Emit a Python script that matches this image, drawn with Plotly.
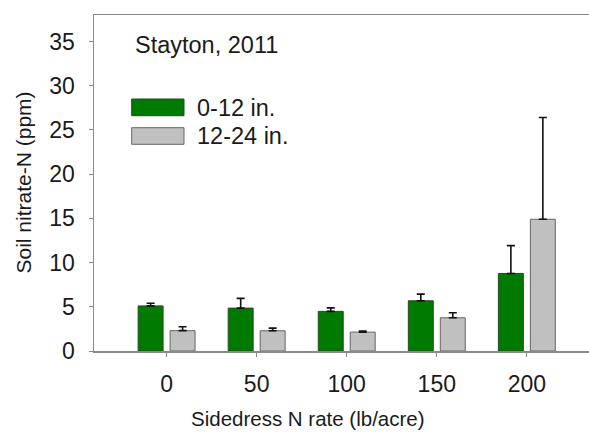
import plotly.graph_objects as go

rates = ["0", "50", "100", "150", "200"]
shallow = [5.1, 4.85, 4.48, 5.68, 8.77]
shallow_err = [0.3, 1.1, 0.4, 0.75, 3.15]
deep = [2.3, 2.29, 2.14, 3.76, 14.9]
deep_err = [0.45, 0.3, 0.12, 0.56, 11.5]
series_names = ["0-12 in.", "12-24 in."]
y_ticks = [0, 5, 10, 15, 20, 25, 30, 35]

FONT = "Liberation Sans, Arial, sans-serif"
GREEN = "#007a00"
GRAY = "#c0c0c0"
AXIS = "#8a8a8a"
TXT = "#1a1a1a"

fig = go.Figure()
fig.add_trace(go.Bar(
    x=rates, y=shallow, name=series_names[0],
    marker=dict(color=GREEN, line=dict(color="#1f4d1f", width=1)),
    error_y=dict(type="data", array=shallow_err, arrayminus=[0] * len(rates),
                 symmetric=False, color="#111111", thickness=1.6, width=4),
    showlegend=False,
))
fig.add_trace(go.Bar(
    x=rates, y=deep, name=series_names[1],
    marker=dict(color=GRAY, line=dict(color="#666666", width=1)),
    error_y=dict(type="data", array=deep_err, arrayminus=[0] * len(rates),
                 symmetric=False, color="#111111", thickness=1.6, width=4),
    showlegend=False,
))

W, H = 589, 439
PL, PT, PB = 94, 15, 351   # plot-area edges in page pixels
L, T = PL, PT
B = H - PB
R = 0
pw, ph = W - L - R, H - T - B

def px(xp):
    return (xp - PL) / pw

def py(yp):
    return (PB - yp) / ph

fig.update_layout(
    width=W, height=H,
    margin=dict(l=L, r=R, t=T, b=B, autoexpand=False),
    paper_bgcolor="white", plot_bgcolor="white",
    barmode="group", bargap=0.29, bargroupgap=0.22,
    font=dict(family=FONT, size=21, color=TXT),
    hovermode=False,
    xaxis=dict(
        type="category", categoryorder="array", categoryarray=rates,
        range=[-0.806, 4.69],
        showline=True, linecolor=AXIS, linewidth=1.5, mirror=True,
        ticks="outside", ticklen=4, tickcolor=AXIS, tickwidth=1,
        showgrid=False, zeroline=False,
        tickfont=dict(size=23, color=TXT), ticklabelstandoff=8,
    ),
    yaxis=dict(
        range=[0, 38], tickvals=y_ticks,
        showline=True, linecolor=AXIS, linewidth=1.5,
        ticks="outside", ticklen=4, tickcolor=AXIS, tickwidth=1,
        showgrid=False, zeroline=False,
        tickfont=dict(size=23, color=TXT), ticklabelstandoff=9,
    ),
)

annotations = [
    dict(text="Stayton, 2011", x=px(133), y=py(44.5), xanchor="left", yanchor="middle",
         font=dict(size=23.5)),
    dict(text=series_names[0], x=px(195), y=py(107.5), xanchor="left", yanchor="middle",
         font=dict(size=23.5)),
    dict(text=series_names[1], x=px(195), y=py(136), xanchor="left", yanchor="middle",
         font=dict(size=23.5)),
    dict(text="Sidedress N rate (lb/acre)", x=px(308), y=py(418), xanchor="center",
         yanchor="middle", font=dict(size=20.5)),
    dict(text="Soil nitrate-N (ppm)", x=px(22.5), y=py(183), xanchor="center",
         yanchor="middle", textangle=-90, font=dict(size=21)),
]
for a in annotations:
    a.update(xref="paper", yref="paper", showarrow=False)
fig.update_layout(annotations=annotations)

fig.add_shape(type="rect", xref="paper", yref="paper",
              x0=px(131.7), x1=px(184), y0=py(115.7), y1=py(99),
              fillcolor=GREEN, line=dict(color="#1f4d1f", width=1))
fig.add_shape(type="rect", xref="paper", yref="paper",
              x0=px(131.7), x1=px(184), y0=py(144.3), y1=py(127.7),
              fillcolor=GRAY, line=dict(color="#666666", width=1))

fig.write_html(
    "out.html",
    config={"displayModeBar": False, "staticPlot": True},
    post_script="document.documentElement.style.margin='0';"
                "document.body.style.margin='0';"
                "document.body.style.padding='0';"
                "document.documentElement.style.overflow='hidden';"
                "document.body.style.overflow='hidden';",
)
